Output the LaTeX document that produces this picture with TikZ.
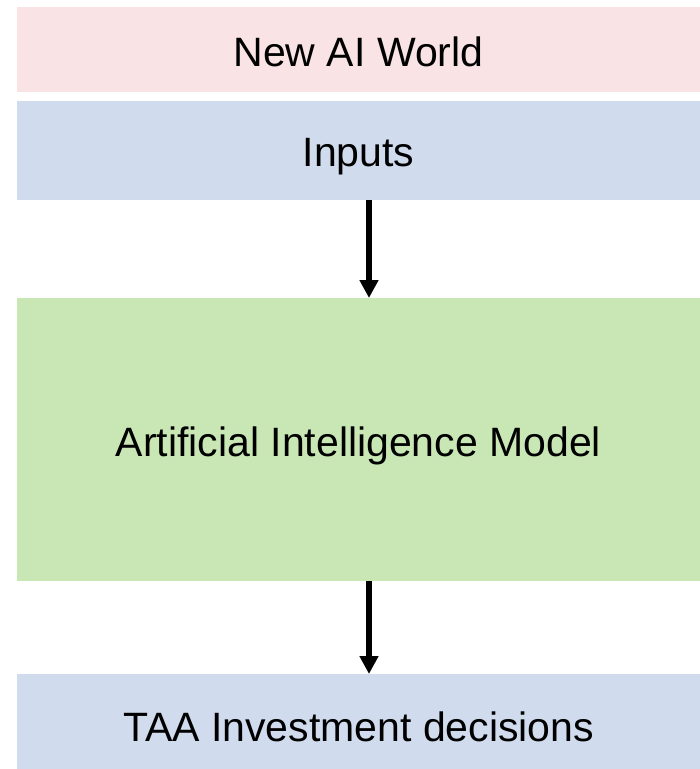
\documentclass[tikz,border=0pt]{standalone}
\usepackage{fontspec}
\setmainfont{Liberation Sans}
\usetikzlibrary{arrows.meta}
\definecolor{pinkbox}{RGB}{249,227,228}
\definecolor{bluebox}{RGB}{208,220,238}
\definecolor{greenbox}{RGB}{201,231,180}
\begin{document}
\begin{tikzpicture}[x=1pt,y=-1pt,
  panel/.style={anchor=north west,inner sep=0pt,outer sep=0pt,minimum width=683pt,
    font=\fontsize{41}{49}\selectfont,text=black,text height=33.4pt,text depth=0pt},
  arr/.style={line width=5.5pt,-{Triangle[length=18pt,width=18pt]}}]
\useasboundingbox (0,0) rectangle (700,769);
\node[panel,fill=pinkbox,minimum height=85pt] (world) at (17,7) {New AI World};
\node[panel,fill=bluebox,minimum height=99pt,text height=32.4pt] (in) at (17,101) {Inputs};
\node[panel,fill=greenbox,minimum height=283pt] (ai) at (17,298) {Artificial Intelligence Model};
\node[panel,fill=bluebox,minimum height=95pt,text height=39.4pt] (taa) at (17,674) {TAA Investment decisions};
\draw[arr] ([xshift=10.5pt]in.south) -- ([xshift=10.5pt]ai.north);
\draw[arr] ([xshift=10.5pt]ai.south) -- ([xshift=10.5pt]taa.north);
\end{tikzpicture}
\end{document}
